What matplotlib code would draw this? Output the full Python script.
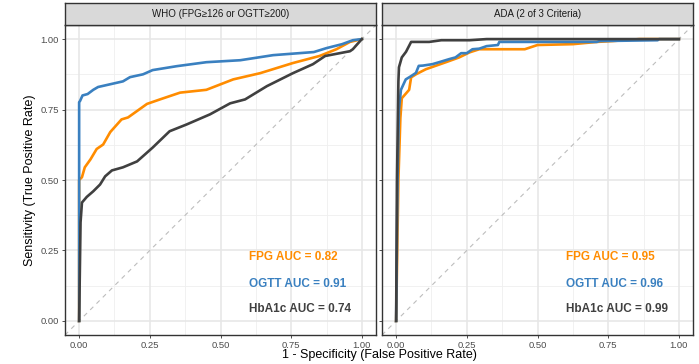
import numpy as np
import matplotlib.pyplot as plt

plt.rcParams['font.family'] = ['Liberation Sans', 'DejaVu Sans']

# ROC-Kurven (FPR, TPR)
who_fpg_fpr = [0, 0.0, 0.01, 0.02, 0.04, 0.062, 0.085, 0.11, 0.15, 0.173, 0.24, 0.286, 0.357, 0.45, 0.545, 0.64, 0.756, 0.85, 0.91, 0.958, 1.0]
who_fpg_tpr = [0, 0.50, 0.51, 0.545, 0.573, 0.61, 0.626, 0.67, 0.715, 0.722, 0.77, 0.786, 0.81, 0.82, 0.857, 0.879, 0.915, 0.94, 0.964, 0.99, 1.0]

who_ogtt_fpr = [0, 0.0, 0.003, 0.012, 0.03, 0.05, 0.067, 0.155, 0.18, 0.226, 0.26, 0.346, 0.45, 0.57, 0.686, 0.83, 0.875, 0.93, 0.968, 1.0]
who_ogtt_tpr = [0, 0.776, 0.78, 0.80, 0.805, 0.82, 0.83, 0.85, 0.865, 0.875, 0.89, 0.904, 0.918, 0.925, 0.943, 0.954, 0.968, 0.982, 0.996, 1.0]

who_hba1c_fpr = [0, 0.005, 0.01, 0.027, 0.05, 0.074, 0.092, 0.116, 0.155, 0.205, 0.26, 0.32, 0.38, 0.463, 0.534, 0.587, 0.664, 0.756, 0.827, 0.87, 0.958, 0.968, 1.0]
who_hba1c_tpr = [0, 0.35, 0.42, 0.44, 0.46, 0.484, 0.513, 0.534, 0.545, 0.566, 0.615, 0.673, 0.697, 0.733, 0.772, 0.786, 0.833, 0.879, 0.911, 0.94, 0.957, 0.964, 1.0]

ada_fpg_fpr = [0, 0.008, 0.015, 0.02, 0.046, 0.053, 0.07, 0.105, 0.176, 0.223, 0.26, 0.294, 0.455, 0.5, 0.625, 0.71, 0.766, 0.86, 1.0]
ada_fpg_tpr = [0, 0.50, 0.72, 0.79, 0.82, 0.864, 0.875, 0.893, 0.918, 0.935, 0.953, 0.964, 0.964, 0.979, 0.982, 0.99, 0.993, 1.0, 1.0]

ada_ogtt_fpr = [0, 0.005, 0.01, 0.017, 0.034, 0.052, 0.07, 0.08, 0.095, 0.128, 0.152, 0.188, 0.21, 0.23, 0.25, 0.27, 0.294, 0.32, 0.36, 0.365, 0.71, 0.72, 0.925, 0.93, 1.0]
ada_ogtt_tpr = [0, 0.50, 0.75, 0.82, 0.857, 0.868, 0.88, 0.905, 0.906, 0.911, 0.918, 0.929, 0.935, 0.95, 0.95, 0.964, 0.966, 0.975, 0.979, 0.99, 0.99, 0.993, 0.996, 1.0, 1.0]

ada_hba1c_fpr = [0, 0.003, 0.008, 0.01, 0.02, 0.035, 0.053, 0.117, 0.16, 0.26, 0.32, 1.0]
ada_hba1c_tpr = [0, 0.50, 0.85, 0.90, 0.935, 0.955, 0.99, 0.99, 0.996, 0.996, 1.0, 1.0]

panel_titles = ['WHO (FPG≥126 or OGTT≥200)', 'ADA (2 of 3 Criteria)']
auc_who = ['FPG AUC = 0.82', 'OGTT AUC = 0.91', 'HbA1c AUC = 0.74']
auc_ada = ['FPG AUC = 0.95', 'OGTT AUC = 0.96', 'HbA1c AUC = 0.99']
ticks = [0, 0.25, 0.5, 0.75, 1.0]
tick_labels = ['0.00', '0.25', '0.50', '0.75', '1.00']

farben = ['#FF8C00', '#3A80C0', '#404040']
panels = [
    [(who_fpg_fpr, who_fpg_tpr), (who_ogtt_fpr, who_ogtt_tpr), (who_hba1c_fpr, who_hba1c_tpr)],
    [(ada_fpg_fpr, ada_fpg_tpr), (ada_ogtt_fpr, ada_ogtt_tpr), (ada_hba1c_fpr, ada_hba1c_tpr)],
]
auc_texte = [auc_who, auc_ada]
text_y = [0.228, 0.13, 0.043]

fig = plt.figure(figsize=(6.99, 3.64), dpi=100)
lefts = [65 / 699, 382 / 699]
breite = 311 / 699
unten = 1 - 335 / 364
hoehe = 310 / 364

for i in range(2):
    ax = fig.add_axes([lefts[i], unten, breite, hoehe])
    ax.set_facecolor('white')
    ax.set_xlim(-0.05, 1.05)
    ax.set_ylim(-0.05, 1.05)
    # Gitter
    for v in [0.125, 0.375, 0.625, 0.875]:
        ax.axvline(v, color='#EFEFEF', lw=0.6, zorder=0)
        ax.axhline(v, color='#EFEFEF', lw=0.6, zorder=0)
    for v in ticks:
        ax.axvline(v, color='#E6E6E6', lw=1.1, zorder=0)
        ax.axhline(v, color='#E6E6E6', lw=1.1, zorder=0)
    ax.axline((0, 0), (1, 1), color='#BDBDBD', lw=0.8, ls=(0, (4, 4)), zorder=1)
    for k, (fx, fy) in enumerate(panels[i]):
        ax.plot(fx, fy, color=farben[k], lw=1.9, zorder=2 + k, solid_joinstyle='round')
    for k, t in enumerate(auc_texte[i]):
        ax.text(0.6, text_y[k], t, color=farben[k], fontsize=8.5, fontweight='bold', va='center', ha='left')
    ax.set_xticks(ticks)
    ax.set_xticklabels(tick_labels)
    ax.set_yticks(ticks)
    if i == 0:
        ax.set_yticklabels(tick_labels)
    else:
        ax.set_yticklabels([])
        ax.tick_params(axis='y', length=0)
    ax.tick_params(colors='#333333', labelcolor='#4D4D4D', labelsize=6.8, length=2.5, width=0.6, pad=2)
    for s in ax.spines.values():
        s.set_color('#333333')
        s.set_linewidth(1.0)
    # Streifen oben
    strip = fig.add_axes([lefts[i], 1 - 25 / 364, breite, 22 / 364])
    strip.set_facecolor('#D9D9D9')
    strip.set_xticks([])
    strip.set_yticks([])
    for s in strip.spines.values():
        s.set_color('#333333')
        s.set_linewidth(1.0)
    strip.text(0.5, 0.5, panel_titles[i], ha='center', va='center', fontsize=7, color='#1A1A1A',
               transform=strip.transAxes)

fig.text(30 / 699, 1 - 180 / 364, 'Sensitivity (True Positive Rate)', rotation=90, ha='center', va='center',
         fontsize=9, color='black')
fig.text(379 / 699, 1 - 355 / 364, '1 - Specificity (False Positive Rate)', ha='center', va='center',
         fontsize=9, color='black')

fig.savefig('out.png', dpi=100)
